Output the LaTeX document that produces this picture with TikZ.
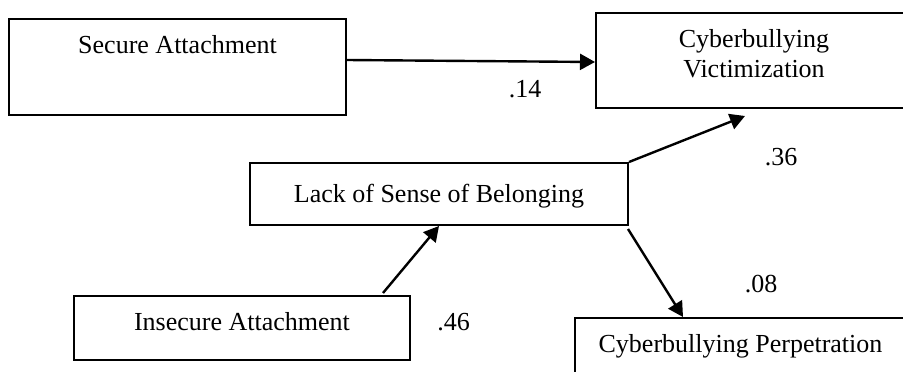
\documentclass[tikz,border=0pt]{standalone}
\usepackage{fontspec}
\setmainfont{Liberation Serif}
\usetikzlibrary{arrows.meta,calc}
\begin{document}
\begin{tikzpicture}[x=1pt,y=-1pt,
  every node/.style={font=\fontsize{26}{30}\selectfont},
  box/.style={draw, line width=2pt, inner sep=0pt, text height=18pt},
  pathway/.style={line width=2.4pt, -{Triangle[length=15pt,width=16pt]}},
  coef/.style={anchor=base, inner sep=0pt}]
\useasboundingbox (0,0) rectangle (903,372);
\clip (0,0) rectangle (903,372);

% constructs
\node[box, minimum width=337pt, minimum height=96pt, text depth=46pt] (sec) at (177.5,67) {Secure Attachment};
\node[box, align=center, minimum width=316pt, minimum height=95pt, text height=33pt, text depth=0pt] (vic) at (754,60.5) {Cyberbullying\\Victimization};
\node[box, minimum width=378pt, minimum height=62pt, text depth=2pt] (bel) at (439,194) {Lack of Sense of Belonging};
\node[box, minimum width=336pt, minimum height=64pt, text depth=14pt] (ins) at (242,328) {Insecure Attachment};
\node[box, minimum width=331pt, minimum height=68pt, text depth=18pt] (per) at (740.5,352) {Cyberbullying Perpetration};

% paths
\draw[pathway] ($(sec.east)+(0,-7)$) -- ($(vic.west)+(0,1.5)$);
\draw[pathway] (bel.north east) -- ($(vic.south)+(-9,7)$);
\draw[pathway] ($(ins.north)+(141,-2)$) -- (bel.south);
\draw[pathway] ($(bel.south east)+(-1,3)$) -- ($(per.north)+(-57.5,0)$);

% path coefficients
\node[coef] (c14) at (525,97) {.14};
\node[coef] (c36) at (781,165) {.36};
\node[coef] (c08) at (761,292) {.08};
\node[coef] (c46) at (453.5,330) {.46};
\end{tikzpicture}
\end{document}
